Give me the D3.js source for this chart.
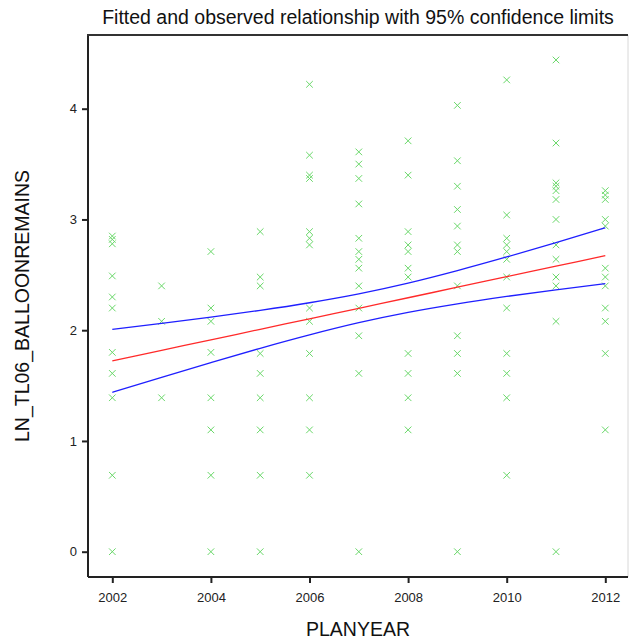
<!DOCTYPE html>
<html>
<head>
<meta charset="utf-8">
<script src="https://cdn.jsdelivr.net/npm/d3@7"></script>
<style>
  body { margin: 0; background: #fff; }
  svg { font-family: "Liberation Sans", Arial, sans-serif; }
</style>
</head>
<body>
<div id="chart"></div>
<script>
// observed values, one array per plan year
const years = [2002, 2003, 2004, 2005, 2006, 2007, 2008, 2009, 2010, 2011, 2012];
const observed = [
  [2.85, 2.82, 2.78, 2.49, 2.30, 2.20, 1.80, 1.61, 1.39, 0.69, 0],
  [2.40, 2.08, 1.39],
  [2.71, 2.20, 2.08, 1.80, 1.39, 1.10, 0.69, 0],
  [2.89, 2.48, 2.40, 1.79, 1.61, 1.39, 1.10, 0.69, 0],
  [4.22, 3.58, 3.40, 3.37, 2.89, 2.83, 2.77, 2.20, 2.08, 1.79, 1.39, 1.10, 0.69],
  [3.61, 3.50, 3.37, 3.14, 2.83, 2.71, 2.64, 2.56, 2.40, 2.20, 1.95, 1.61, 0],
  [3.71, 3.40, 2.89, 2.77, 2.71, 2.56, 2.48, 1.79, 1.61, 1.39, 1.10],
  [4.03, 3.53, 3.30, 3.09, 2.94, 2.77, 2.71, 2.40, 1.95, 1.79, 1.61, 0],
  [4.26, 3.04, 2.83, 2.77, 2.71, 2.64, 2.48, 2.20, 1.79, 1.61, 1.39, 0.69],
  [4.44, 3.69, 3.33, 3.30, 3.26, 3.18, 3.00, 2.77, 2.64, 2.48, 2.40, 2.08, 0],
  [3.26, 3.22, 3.18, 3.00, 2.94, 2.56, 2.48, 2.40, 2.20, 2.08, 1.79, 1.10]
];
// fitted line and 95% limits read at each year
const fitted = [1.723, 1.818, 1.913, 2.008, 2.103, 2.198, 2.293, 2.388, 2.483, 2.578, 2.673];
const upper  = [2.007, 2.061, 2.118, 2.179, 2.248, 2.328, 2.425, 2.538, 2.661, 2.791, 2.925];
const lower  = [1.439, 1.575, 1.708, 1.837, 1.958, 2.068, 2.161, 2.238, 2.305, 2.365, 2.421];
const xTicks = [2002, 2004, 2006, 2008, 2010, 2012];
const yTicks = [0, 1, 2, 3, 4];

const width = 629, height = 643;
const frame = {l:88, t:35, r:628, b:577};

const svg = d3.select('#chart')
  .append('svg')
  .attr('width', width)
  .attr('height', height);

const x = d3.scaleLinear().domain([2002, 2012]).range([112.3, 605.3]);
const y = d3.scaleLinear().domain([0, 4]).range([551.7, 108.7]);

// faint right edge
svg.append('line')
  .attr('x1', frame.r).attr('x2', frame.r)
  .attr('y1', frame.t).attr('y2', frame.b)
  .attr('stroke', '#d8d8d8').attr('stroke-width', 1);

// observed points as x markers
const pts = [];
years.forEach((yr, i) => observed[i].forEach(v => pts.push({year: yr, v: v})));
const s = 3.3;
svg.append('g')
  .selectAll('path')
  .data(pts)
  .enter()
  .append('path')
  .attr('d', d => {
    const cx = x(d.year), cy = y(d.v);
    return `M${cx-s},${cy-s}L${cx+s},${cy+s}M${cx-s},${cy+s}L${cx+s},${cy-s}`;
  })
  .attr('stroke', '#6ad86a')
  .attr('stroke-width', 1)
  .attr('fill', 'none');

// fitted and limits
const line = d3.line().x(d => x(d[0])).y(d => y(d[1])).curve(d3.curveMonotoneX);
const series = [
  {vals: upper, color: '#1f1fff'},
  {vals: lower, color: '#1f1fff'},
  {vals: fitted, color: '#ff2a2a'}
];
svg.append('g')
  .selectAll('path')
  .data(series)
  .enter()
  .append('path')
  .attr('d', d => line(years.map((yr, i) => [yr, d.vals[i]])))
  .attr('fill', 'none')
  .attr('stroke', d => d.color)
  .attr('stroke-width', 1.3);

// axes
const axisX = d3.axisBottom(x).tickValues(xTicks).tickFormat(d3.format('d')).tickSize(6).tickSizeOuter(0);
const axisY = d3.axisLeft(y).tickValues(yTicks).tickFormat(d3.format('d')).tickSize(6).tickSizeOuter(0);

const gx = svg.append('g')
  .attr('transform', `translate(0,${frame.b})`)
  .call(axisX);
gx.select('.domain').attr('d', `M${frame.l},0H${frame.r}`);

const gy = svg.append('g')
  .attr('transform', `translate(${frame.l},0)`)
  .call(axisY);
gy.select('.domain').attr('d', `M0,${frame.t}V${frame.b}`);

[gx, gy].forEach(g => {
  g.select('.domain').attr('stroke', '#222').attr('stroke-width', 2);
  g.selectAll('.tick line').attr('stroke', '#222').attr('stroke-width', 2);
  g.selectAll('.tick text').attr('fill', '#222').style('font-size', '13px');
});
gx.selectAll('.tick text').attr('dy', '1.2em');
gy.selectAll('.tick text').attr('x', -11);

// top border
svg.append('line')
  .attr('x1', frame.l - 1).attr('x2', frame.r)
  .attr('y1', frame.t).attr('y2', frame.t)
  .attr('stroke', '#333').attr('stroke-width', 2);

// titles
svg.append('text')
  .attr('x', 358).attr('y', 24)
  .attr('text-anchor', 'middle')
  .style('font-size', '19.5px')
  .attr('fill', '#111')
  .text('Fitted and observed relationship with 95% confidence limits');

svg.append('text')
  .attr('x', 358).attr('y', 636)
  .attr('text-anchor', 'middle')
  .style('font-size', '19.5px')
  .attr('fill', '#111')
  .text('PLANYEAR');

svg.append('text')
  .attr('transform', 'translate(29,306) rotate(-90)')
  .attr('text-anchor', 'middle')
  .style('font-size', '19.5px')
  .attr('fill', '#111')
  .text('LN_TL06_BALLOONREMAINS');
</script>
</body>
</html>
